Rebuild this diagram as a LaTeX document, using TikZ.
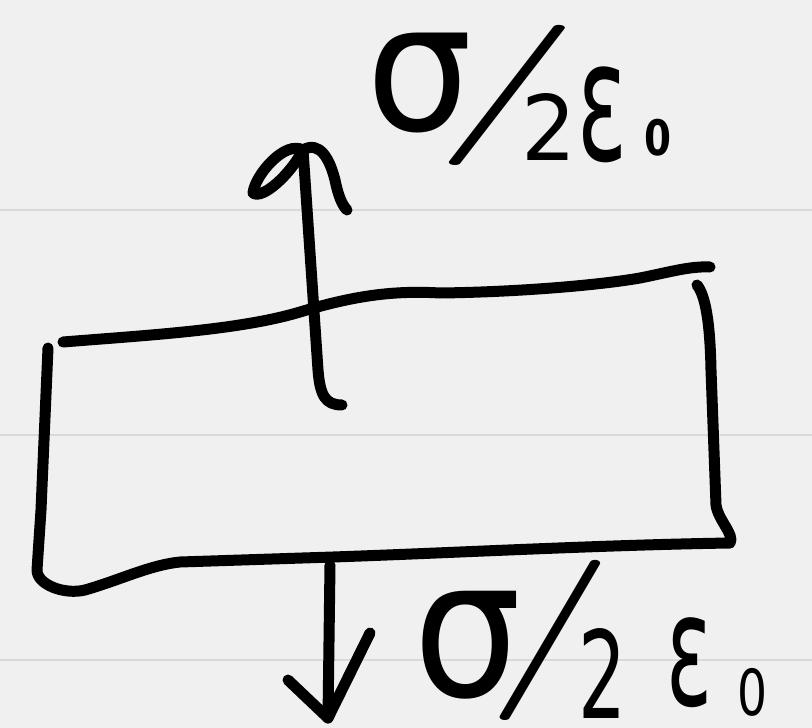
\documentclass[tikz,border=0pt]{standalone}
\usepackage{fontspec}
\newfontfamily\handfont{DejaVu Sans}
\newcommand\gl[3]{\resizebox*{#1pt}{#2pt}{#3}}
\definecolor{paper}{HTML}{F0F0F0}
\definecolor{ruling}{HTML}{D9D9D9}
\begin{document}
\begin{tikzpicture}[x=1pt,y=-1pt,
  pen/.style={line width=11pt,line cap=round,line join=round,black},
  glyph/.style={inner sep=0pt,outer sep=0pt,anchor=center,font=\handfont},
  ruled/.style={line width=2pt,ruling}]
\fill[paper] (0,0) rectangle (812,728);
\useasboundingbox (0,0) rectangle (812,728);
\foreach \yy in {210,435,660} \draw[ruled] (0,\yy) -- (812,\yy);
% plate
\draw[pen] (63,342) .. controls (150,335) and (240,330) .. (300,312)
  .. controls (350,297) and (390,290) .. (440,293)
  .. controls (520,292) and (600,285) .. (640,278)
  .. controls (670,272) and (690,266) .. (710,267);
\draw[pen] (48,348) -- (41,510) -- (37,570)
  .. controls (37,585) and (65,595) .. (85,590)
  .. controls (120,580) and (150,565) .. (180,562) -- (333,557)
  .. controls (450,553) and (600,545) .. (730,543)
  .. controls (735,535) and (718,520) .. (716,505) -- (711,370)
  .. controls (710,320) and (705,295) .. (697,285);
% upward arrow
\coordinate (upfoot) at (342,405);
\coordinate (uptip) at (303,150);
\draw[pen] (upfoot) .. controls (325,405) and (320,395) .. (318,370) -- (uptip);
\draw[pen] (uptip) .. controls (285,140) and (255,175) .. (253,193)
  .. controls (262,200) and (290,175) .. (uptip);
\draw[pen] (uptip) .. controls (320,140) and (330,160) .. (335,180)
  .. controls (338,195) and (342,205) .. (347,210);
% downward arrow
\coordinate (dnroot) at (330,565);
\coordinate (dntip) at (328,718);
\draw[pen] (dnroot) -- (dntip);
\draw[pen] (288,680) -- (dntip) -- (370,633);
% top label
\node[glyph] (ts) at (420,83) {\gl{106}{100}{σ}};
\node[glyph] (tsl) at (507,95) {\gl{150}{140}{\rmfamily /}};
\node[glyph] (t2) at (549,127) {\gl{55}{67}{2}};
\node[glyph] (te) at (603,115) {\gl{50}{96}{ε}};
\node[glyph] (t0) at (658,138) {\gl{27}{37}{\bfseries 0}};
% bottom label
\node[glyph] (bs) at (468,645) {\gl{108}{108}{σ}};
\node[glyph] (bsl) at (550,640) {\gl{130}{160}{\rmfamily /}};
\node[glyph] (b2) at (603,673) {\gl{48}{90}{2}};
\node[glyph] (be) at (690,663) {\gl{46}{90}{ε}};
\node[glyph] (b0) at (752,692) {\gl{30}{48}{0}};
\end{tikzpicture}
\end{document}
